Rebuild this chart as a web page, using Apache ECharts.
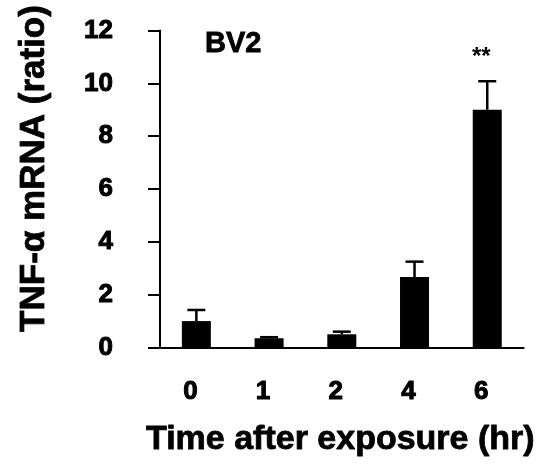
<!DOCTYPE html>
<html>
<head>
<meta charset="utf-8">
<script src="https://cdn.jsdelivr.net/npm/echarts@6/dist/echarts.min.js"></script>
<style>
html,body{margin:0;padding:0;background:#fff;}
#chart{width:538px;height:465px;}
</style>
</head>
<body>
<div id="chart"></div>
<script>
// Data
var categories = ['0', '1', '2', '4', '6'];
var meanValues = [1.0, 0.35, 0.5, 2.67, 9.0];
var upperValues = [1.42, 0.39, 0.6, 3.25, 10.08];
var sigLabels = ['', '', '', '', '**'];
var yTicks = [0, 2, 4, 6, 8, 10, 12];

var FONT = 'Liberation Sans, Arial, sans-serif';
var chart = echarts.init(document.getElementById('chart'), null, {renderer: 'canvas'});

var errData = categories.map(function (c, i) { return [i, meanValues[i], upperValues[i], sigLabels[i]]; });

chart.setOption({
  animation: false,
  backgroundColor: '#ffffff',
  grid: {left: 160, right: 12, top: 30.5, bottom: 117.5, containLabel: false},
  xAxis: {
    type: 'category',
    data: categories,
    boundaryGap: true,
    axisLine: {lineStyle: {color: '#000', width: 2}},
    axisTick: {show: false},
    axisLabel: {
      color: '#000', fontFamily: FONT, fontWeight: 'bold', fontSize: 26,
      textBorderColor: '#000', textBorderWidth: 1,
      margin: 31, padding: [0, 12, 0, 0]
    },
    name: 'Time after exposure (hr)',
    nameLocation: 'middle',
    nameGap: 75,
    nameTextStyle: {color: '#000', fontFamily: FONT, fontWeight: 'bold', fontSize: 34,
      textBorderColor: '#000', textBorderWidth: 0.8, padding: [0, 3, 0, 0]}
  },
  yAxis: {
    type: 'value',
    min: yTicks[0],
    max: yTicks[yTicks.length - 1],
    interval: 2,
    splitLine: {show: false},
    axisLine: {show: true, lineStyle: {color: '#000', width: 2}},
    axisTick: {show: true, length: 12, lineStyle: {color: '#000', width: 2}},
    axisLabel: {
      color: '#000', fontFamily: FONT, fontWeight: 'bold', fontSize: 26,
      textBorderColor: '#000', textBorderWidth: 1,
      margin: 47, padding: [0, 0, 4, 0]
    }
  },
  graphic: [
    {
      type: 'text',
      x: 34, y: 168.5,
      rotation: Math.PI / 2,
      style: {
        text: 'TNF-α mRNA (ratio)',
        fill: '#000',
        stroke: '#000', lineWidth: 0.8,
        font: 'bold 35px ' + FONT,
        align: 'center',
        verticalAlign: 'middle'
      }
    },
    {
      type: 'text',
      x: 205, y: 44,
      style: {
        text: 'BV2',
        fill: '#000',
        stroke: '#000', lineWidth: 0.8,
        font: 'bold 29px ' + FONT,
        align: 'left',
        verticalAlign: 'middle'
      }
    }
  ],
  series: [
    {
      type: 'bar',
      data: meanValues,
      barWidth: 29,
      itemStyle: {color: '#000'},
      z: 2
    },
    {
      type: 'custom',
      data: errData,
      z: 3,
      renderItem: function (params, api) {
        var x = api.value(0);
        var top = api.coord([x, api.value(2)]);
        var base = api.coord([x, api.value(1)]);
        var capHalf = 9;
        var children = [
          {type: 'line', shape: {x1: top[0], y1: base[1], x2: top[0], y2: top[1]},
           style: {stroke: '#000', lineWidth: 2.5}},
          {type: 'line', shape: {x1: top[0] - capHalf, y1: top[1], x2: top[0] + capHalf, y2: top[1]},
           style: {stroke: '#000', lineWidth: 2.5}}
        ];
        var lbl = api.value(3);
        if (lbl) {
          children.push({
            type: 'text',
            x: top[0] - 6, y: top[1] - 24,
            style: {text: lbl, fill: '#000', font: 'bold 24px ' + FONT, align: 'center', verticalAlign: 'middle'}
          });
        }
        return {type: 'group', children: children};
      }
    }
  ]
});
</script>
</body>
</html>
